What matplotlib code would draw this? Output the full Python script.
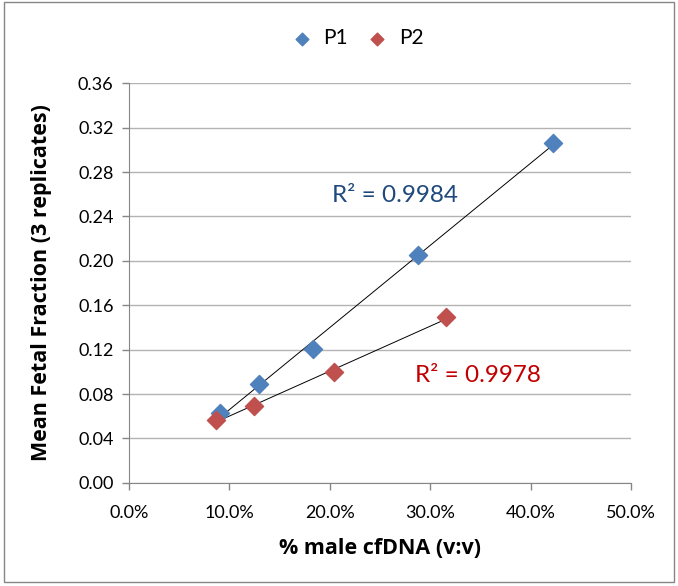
import numpy as np
import matplotlib.pyplot as plt
from matplotlib.patches import Rectangle
from matplotlib.ticker import FuncFormatter, MultipleLocator

plt.rcParams['font.family'] = ['Lato', 'DejaVu Sans']

# data
p1_x = [0.091, 0.130, 0.183, 0.288, 0.422]
p1_y = [0.063, 0.089, 0.121, 0.205, 0.306]
p2_x = [0.087, 0.125, 0.204, 0.316]
p2_y = [0.057, 0.069, 0.100, 0.149]
r2_labels = ["R² = 0.9984", "R² = 0.9978"]

blue = "#4F81BD"
red = "#C0504D"
bold_font = ['Open Sans', 'DejaVu Sans']

fig = plt.figure(figsize=(6.78, 5.86), dpi=100)
ax = fig.add_axes([0.190, 0.176, 0.741, 0.682])

ax.scatter(p1_x, p1_y, marker="D", s=85, color=blue, label="P1", zorder=3)
ax.scatter(p2_x, p2_y, marker="D", s=85, color=red, label="P2", zorder=3)

# linear trendlines over each series' range
for xs, ys in [(p1_x, p1_y), (p2_x, p2_y)]:
    m, b = np.polyfit(xs, ys, 1)
    xx = np.array([min(xs), max(xs)])
    ax.plot(xx, m * xx + b, color="black", lw=0.7, zorder=2)

ax.text(0.202, 0.259, r2_labels[0], color="#1F497D", fontsize=17.5, ha="left", va="center")
ax.text(0.285, 0.0963, r2_labels[1], color="#C00000", fontsize=17.5, ha="left", va="center")

ax.set_xlim(0, 0.5)
ax.set_ylim(0, 0.36)
ax.xaxis.set_major_locator(MultipleLocator(0.1))
ax.yaxis.set_major_locator(MultipleLocator(0.04))
ax.xaxis.set_major_formatter(FuncFormatter(lambda v, p: f"{v*100:.1f}%"))
ax.yaxis.set_major_formatter(FuncFormatter(lambda v, p: f"{v:.2f}"))
ax.tick_params(axis="both", labelsize=13, color="#868686", length=5, width=1)
ax.tick_params(axis="x", pad=11)
ax.tick_params(axis="y", pad=6)

ax.grid(axis="y", color="#B3B3B3", lw=1)
ax.set_axisbelow(True)
for s in ["top", "right"]:
    ax.spines[s].set_visible(False)
for s in ["left", "bottom"]:
    ax.spines[s].set_color("#868686")

ax.set_xlabel("% male cfDNA (v:v)", fontsize=15.5, fontweight="bold",
              family=bold_font, labelpad=12)
ax.set_ylabel("Mean Fetal Fraction (3 replicates)", fontsize=15.5, fontweight="bold",
              family=bold_font, labelpad=19)

ax.legend(loc="center", bbox_to_anchor=(0.445, 1.112), ncol=2, frameon=False,
          fontsize=15, handletextpad=0.05, columnspacing=0.4, markerscale=0.7)

fig.patches.append(Rectangle((0.006, 0.007), 0.988, 0.99, transform=fig.transFigure,
                             fill=False, edgecolor="#868686", lw=1))

fig.savefig("out.png", dpi=100)
